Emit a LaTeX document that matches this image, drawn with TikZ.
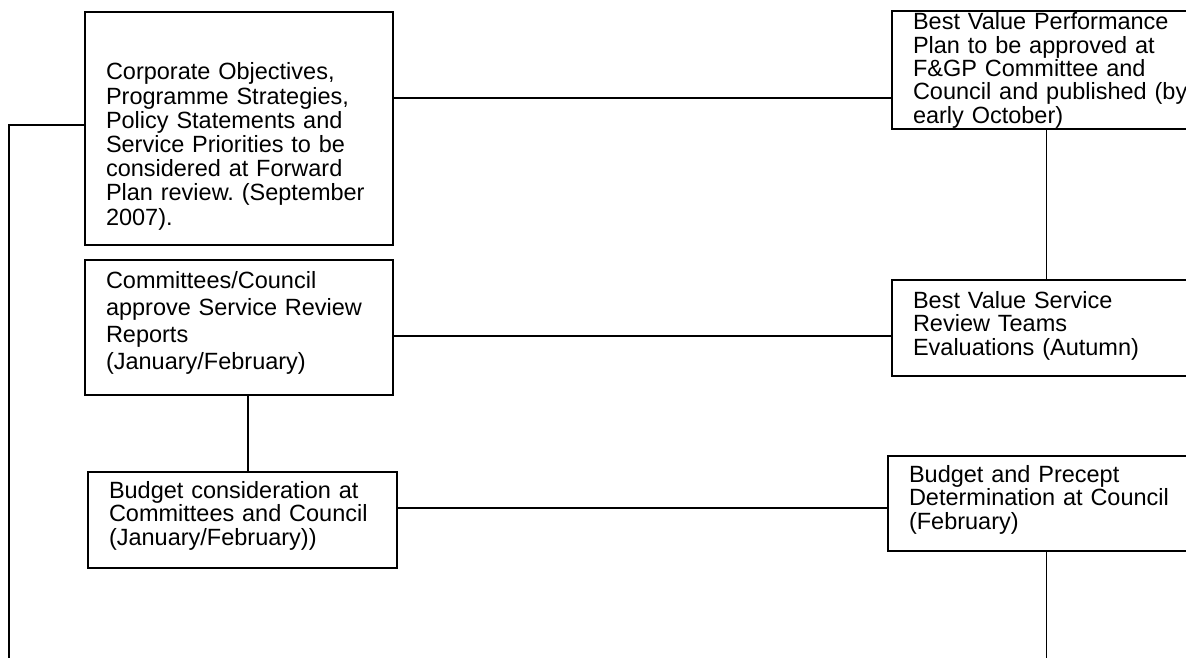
\documentclass[tikz,border=0pt]{standalone}
\usepackage{fontspec}
\setmainfont{Liberation Sans}
\usepackage{tikz}
\usetikzlibrary{positioning}
\frenchspacing

\tikzset{
	stage/.style={draw, line width=2pt, anchor=north west, align=left,
		inner xsep=21pt, inner ysep=0pt,
		font=\fontsize{23.5}{23.7}\selectfont},
	link/.style={line width=1.3pt}
}

\begin{document}
\begin{tikzpicture}[x=1pt,y=-1pt]
	\clip (0,0) rectangle (1186,658);

	% left column
	\node[stage, font=\fontsize{23.5}{24.2}\selectfont, text width=266pt, text height=68pt, text depth=165pt] (corp) at (84,11)
		{Corporate Objectives,\\Programme Strategies,\\Policy Statements and\\Service Priorities to be\\considered at Forward\\Plan review. (September\\2007).};
	\node[stage, font=\fontsize{23.5}{27.3}\selectfont, text width=266pt, text height=28pt, text depth=107pt] (svrev) at (84,259)
		{Committees/Council\\approve Service Review\\Reports\\(January/February)};
	\node[stage, text width=267pt, text height=26pt, text depth=70pt] (budcons) at (87,471)
		{Budget consideration at\\Committees and Council\\(January/February))};

	% right column
	\node[stage, font=\fontsize{23.5}{23.3}\selectfont, text width=267pt, text height=19pt, text depth=99pt] (bvpp) at (891,10)
		{Best Value Performance\\Plan to be approved at\\F\&GP Committee and\\\mbox{Council and published (by}\\early October)};
	\node[stage, text width=267pt, text height=28pt, text depth=68pt] (bvteam) at (891,279)
		{Best Value Service\\Review Teams\\Evaluations (Autumn)};
	\node[stage, text width=275pt, text height=26pt, text depth=69pt] (precept) at (887,455)
		{Budget and Precept\\Determination at Council\\(February)};

	\coordinate (loopend) at (9,658);

	\draw[link] ([yshift=30.5pt]corp.east) -- ([yshift=30.5pt]corp.east -| bvpp.west);
	\draw[link] ([yshift=-8.5pt]svrev.east) -- ([yshift=-8.5pt]svrev.east -| bvteam.west);
	\draw[link] ([yshift=12pt]budcons.east) -- ([yshift=12pt]budcons.east -| precept.west);
	\draw[link] (bvpp.south) -- (bvteam.north);
	\draw[link] ([xshift=9pt]svrev.south) -- ([xshift=9pt]svrev.south |- budcons.north);
	\draw[link] (precept.south) -- (precept.south |- loopend);
	\draw[link] ([yshift=3.5pt]corp.west) -| (loopend);
\end{tikzpicture}
\end{document}
